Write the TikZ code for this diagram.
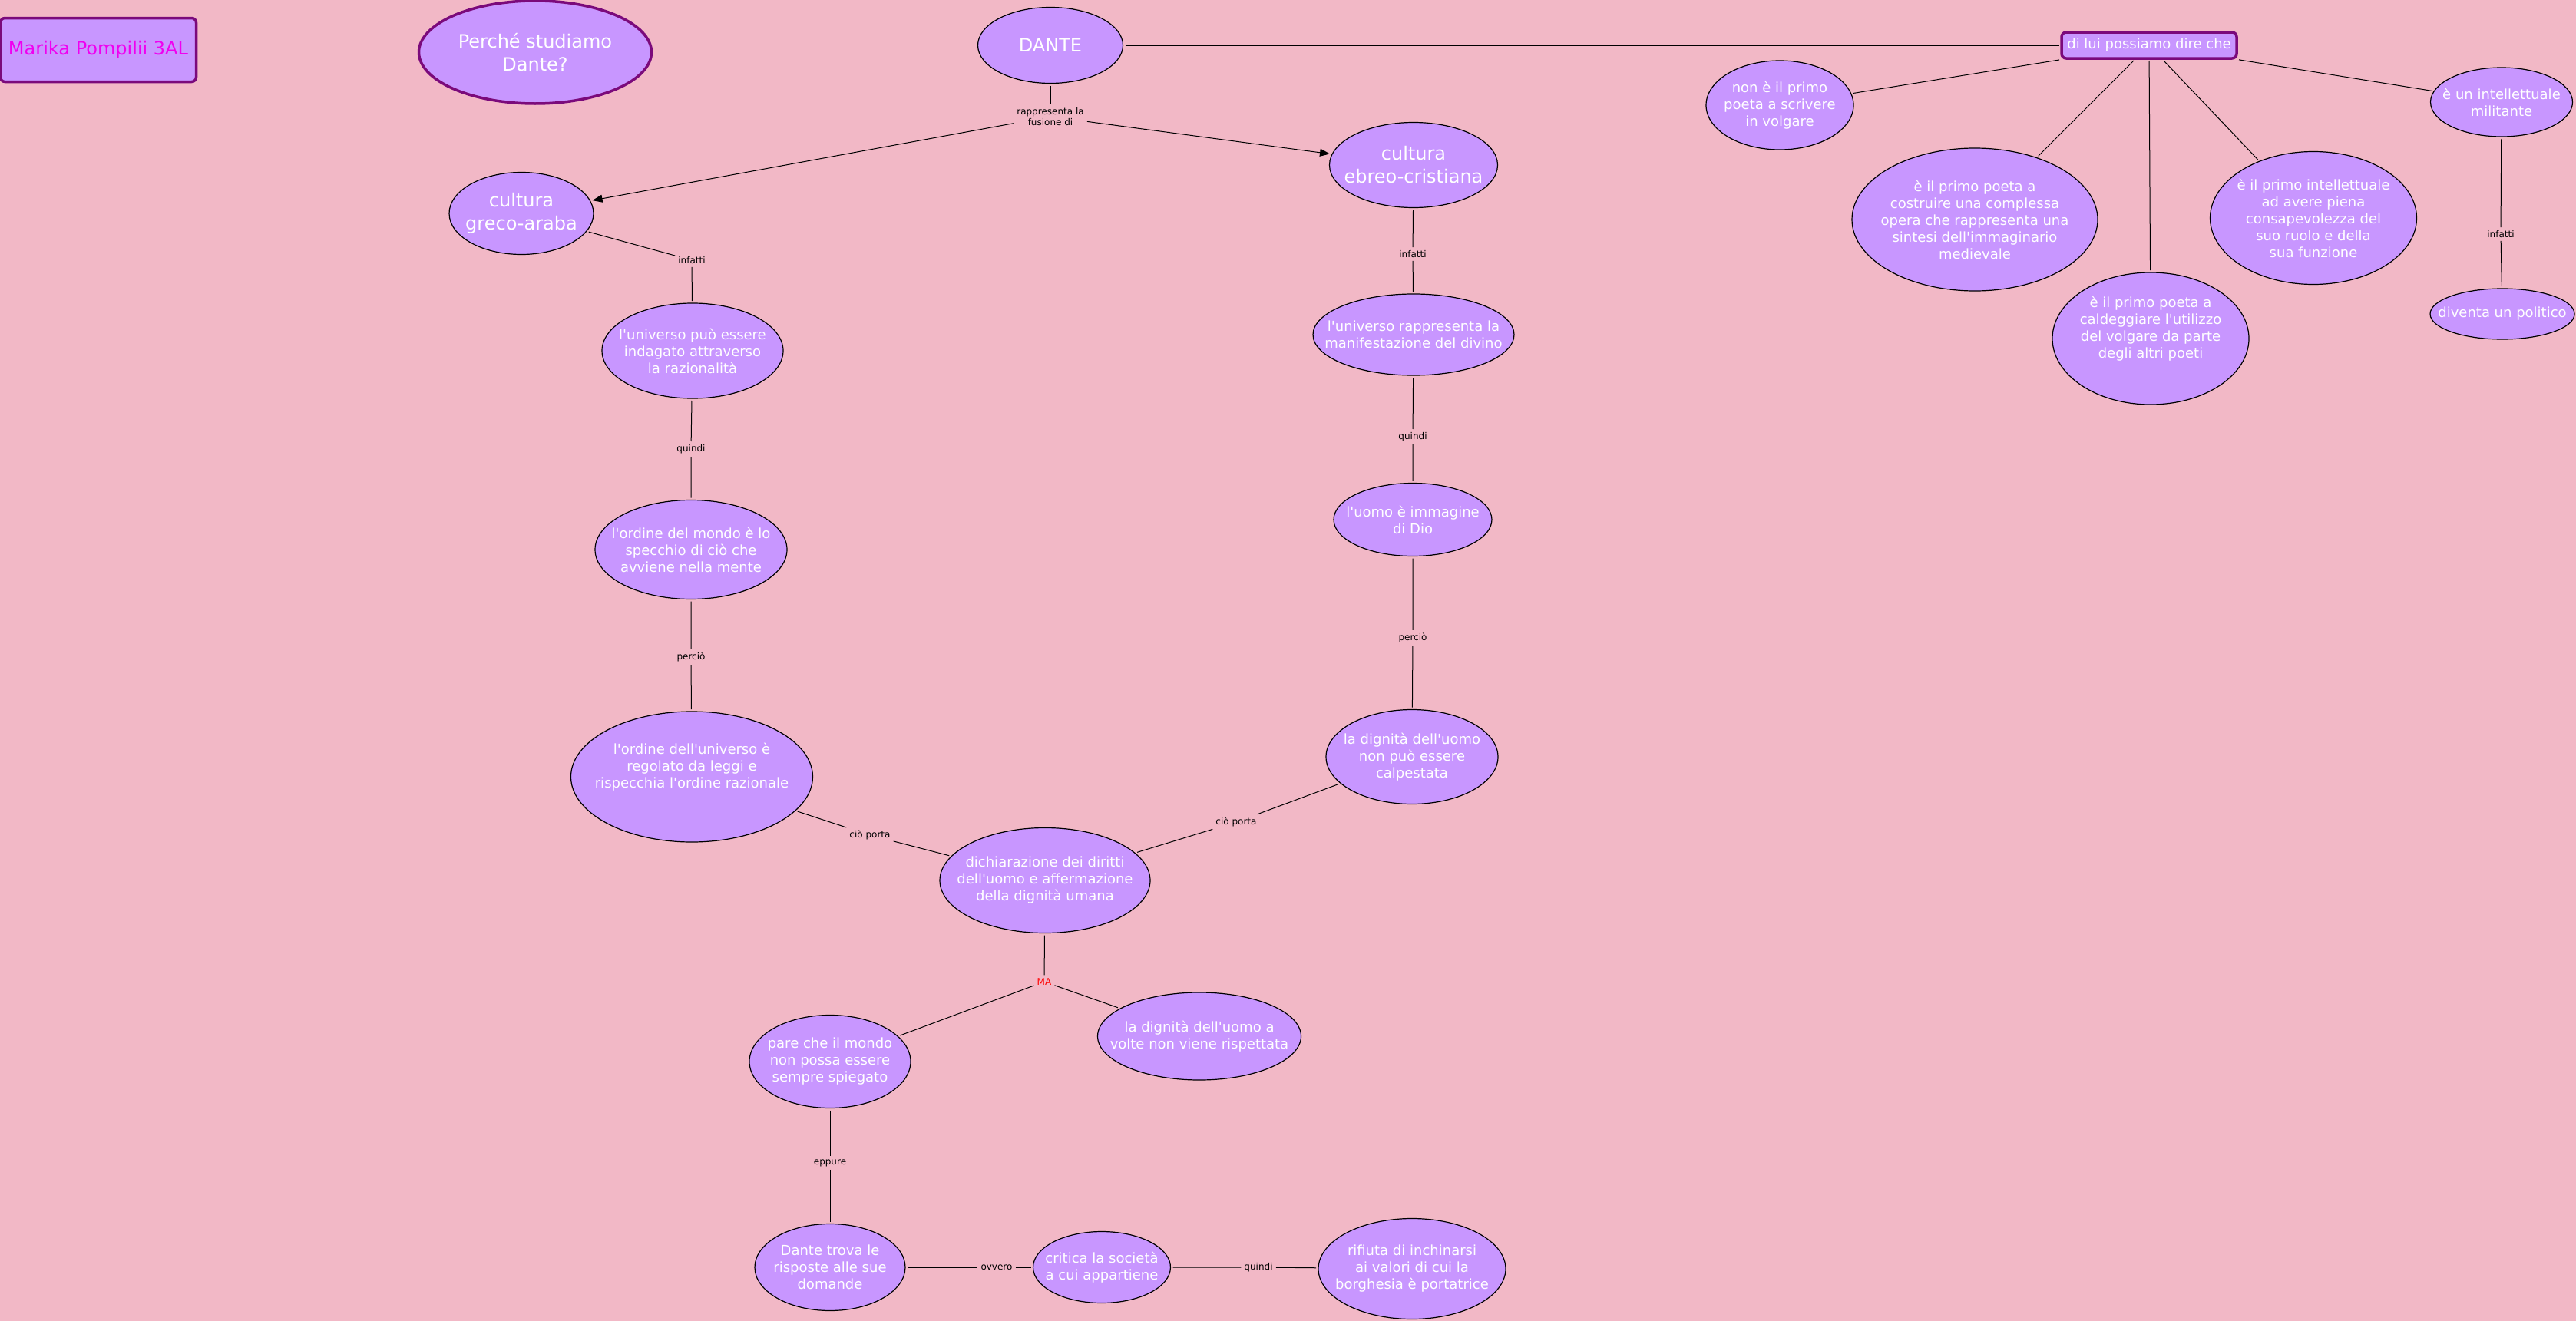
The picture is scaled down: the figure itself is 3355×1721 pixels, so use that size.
\documentclass[tikz,border=0pt]{standalone}
\usepackage{fontspec}
\setmainfont{DejaVu Sans}[Ligatures=TeXOff]
\usetikzlibrary{arrows.meta, shapes.geometric}
\definecolor{mapbg}{HTML}{F2B8C6}
\definecolor{mapfill}{HTML}{C896FF}
\definecolor{mapframe}{HTML}{7B0A7B}
\definecolor{mapname}{HTML}{F000F0}

\begin{document}
\begin{tikzpicture}[x=1pt, y=-1pt,
    dims/.style 2 args={minimum width=#1pt, minimum height=#2pt},
    idea/.style={ellipse, draw=black, line width=1.2pt, fill=mapfill, text=white,
      align=center, inner xsep=-25pt, inner ysep=0pt, outer sep=3pt,
      font=\fontsize{18}{22}\selectfont},
    bigidea/.style={idea, font=\fontsize{24}{30}\selectfont},
    framed/.style={draw=mapframe, line width=3.5pt},
    linkword/.style={align=center, inner sep=4pt, font=\fontsize{12}{14.5}\selectfont},
    wire/.style={line width=1pt},
    tip/.style={-{Triangle[length=13pt, width=10pt]}}]

  \fill[mapbg] (0,0) rectangle (3355,1721);
  \useasboundingbox (0,0) rectangle (3355,1721);

  % titles
  \node[rectangle, rounded corners=6pt, framed, fill=mapfill, text=mapname,
    dims={255}{83}, font=\fontsize{24}{30}\selectfont] (author) at (128,65) {Marika Pompilii 3AL};
  \node[bigidea, framed, dims={303}{134}] (question) at (697,68) {Perché studiamo\\Dante?};
  \node[bigidea, dims={189}{99}] (dante) at (1368,59) {DANTE};
  \node[rectangle, rounded corners=6pt, framed, fill=mapfill, text=white, inner xsep=6pt,
    outer sep=3pt, dims={228}{34}, font=\fontsize{18}{22}\selectfont] (dilui) at (2799,59) {di lui possiamo dire che};

  % two cultures
  \node[linkword] (fusion) at (1368,152) {rappresenta la\\fusione di};
  \node[bigidea, dims={188}{107}] (greek) at (679,278) {cultura\\greco-araba};
  \node[bigidea, dims={219}{111}] (hebrew) at (1841,215) {cultura\\ebreo-cristiana};

  % left branch
  \node[linkword] (infA) at (901,339) {infatti};
  \node[idea, dims={236}{124}] (reason) at (902,457) {l'universo può essere\\indagato attraverso\\la razionalità};
  \node[linkword] (quindiA) at (900,585) {quindi};
  \node[idea, dims={250}{129}] (mirror) at (900,716) {l'ordine del mondo è lo\\specchio di ciò che\\avviene nella mente};
  \node[linkword] (percioA) at (900,856) {perciò};
  \node[idea, dims={315}{170}] (laws) at (901,1012) {l'ordine dell'universo è\\regolato da leggi e\\rispecchia l'ordine razionale\\\strut};

  % right branch
  \node[linkword] (infB) at (1840,331) {infatti};
  \node[idea, dims={262}{106}] (divine) at (1841,436) {l'universo rappresenta la\\manifestazione del divino};
  \node[linkword] (quindiB) at (1840,569) {quindi};
  \node[idea, dims={206}{95}] (image) at (1840,677) {l'uomo è immagine\\di Dio};
  \node[linkword] (percioB) at (1840,831) {perciò};
  \node[idea, dims={224}{123}] (dignity) at (1839,986) {la dignità dell'uomo\\non può essere\\calpestata};

  % middle
  \node[linkword] (portaA) at (1133,1088) {ciò porta};
  \node[linkword] (portaB) at (1610,1071) {ciò porta};
  \node[idea, dims={274}{137}] (rights) at (1361,1147) {dichiarazione dei diritti\\dell'uomo e affermazione\\della dignità umana};
  \node[linkword, text=red] (but) at (1360,1279) {MA};
  \node[idea, dims={210}{121}] (world) at (1081,1383) {pare che il mondo\\non possa essere\\sempre spiegato};
  \node[idea, dims={265}{114}] (respect) at (1562,1350) {la dignità dell'uomo a\\volte non viene rispettata};
  \node[linkword] (eppure) at (1081,1515) {eppure};
  \node[idea, dims={196}{113}] (answers) at (1081,1651) {Dante trova le\\risposte alle sue\\domande};
  \node[linkword] (ovvero) at (1298,1651) {ovvero};
  \node[idea, dims={179}{93}] (society) at (1435,1651) {critica la società\\a cui appartiene};
  \node[linkword] (quindiC) at (1639,1651) {quindi};
  \node[idea, dims={244}{131}] (refuse) at (1839,1653) {rifiuta di inchinarsi\\ai valori di cui la\\borghesia è portatrice};

  % what we can say
  \node[idea, dims={192}{116}] (vernacular) at (2318,137) {non è il primo\\poeta a scrivere\\in volgare};
  \node[idea, dims={320}{186}] (synthesis) at (2572,286) {è il primo poeta a\\costruire una complessa\\opera che rappresenta una\\sintesi dell'immaginario\\medievale};
  \node[idea, dims={256}{172}] (promote) at (2801,441) {è il primo poeta a\\caldeggiare l'utilizzo\\del volgare da parte\\degli altri poeti\\\strut};
  \node[idea, dims={269}{173}] (aware) at (3013,284) {è il primo intellettuale\\ad avere piena\\consapevolezza del\\suo ruolo e della\\sua funzione};
  \node[idea, dims={185}{90}] (militant) at (3258,133) {è un intellettuale\\militante};
  \node[linkword] (infC) at (3257,305) {infatti};
  \node[idea, dims={188}{66}] (politic) at (3259,409) {diventa un politico};

  \draw[wire] (dante) -- (fusion);
  \draw[wire, tip] (fusion) -- (greek);
  \draw[wire, tip] (fusion) -- (hebrew);
  \draw[wire] (dante) -- (dilui);
  \foreach \a/\b/\c in {greek/infA/reason, reason/quindiA/mirror, mirror/percioA/laws,
      laws/portaA/rights, hebrew/infB/divine, divine/quindiB/image, image/percioB/dignity,
      dignity/portaB/rights, world/eppure/answers, answers/ovvero/society,
      society/quindiC/refuse, militant/infC/politic}
    \draw[wire] (\a) -- (\b) -- (\c);
  \foreach \b in {world, respect}
    \draw[wire] (but) -- (\b);
  \draw[wire] (rights) -- (but);
  \foreach \b in {vernacular, synthesis, promote, aware, militant}
    \draw[wire] (dilui) -- (\b);
\end{tikzpicture}
\end{document}
